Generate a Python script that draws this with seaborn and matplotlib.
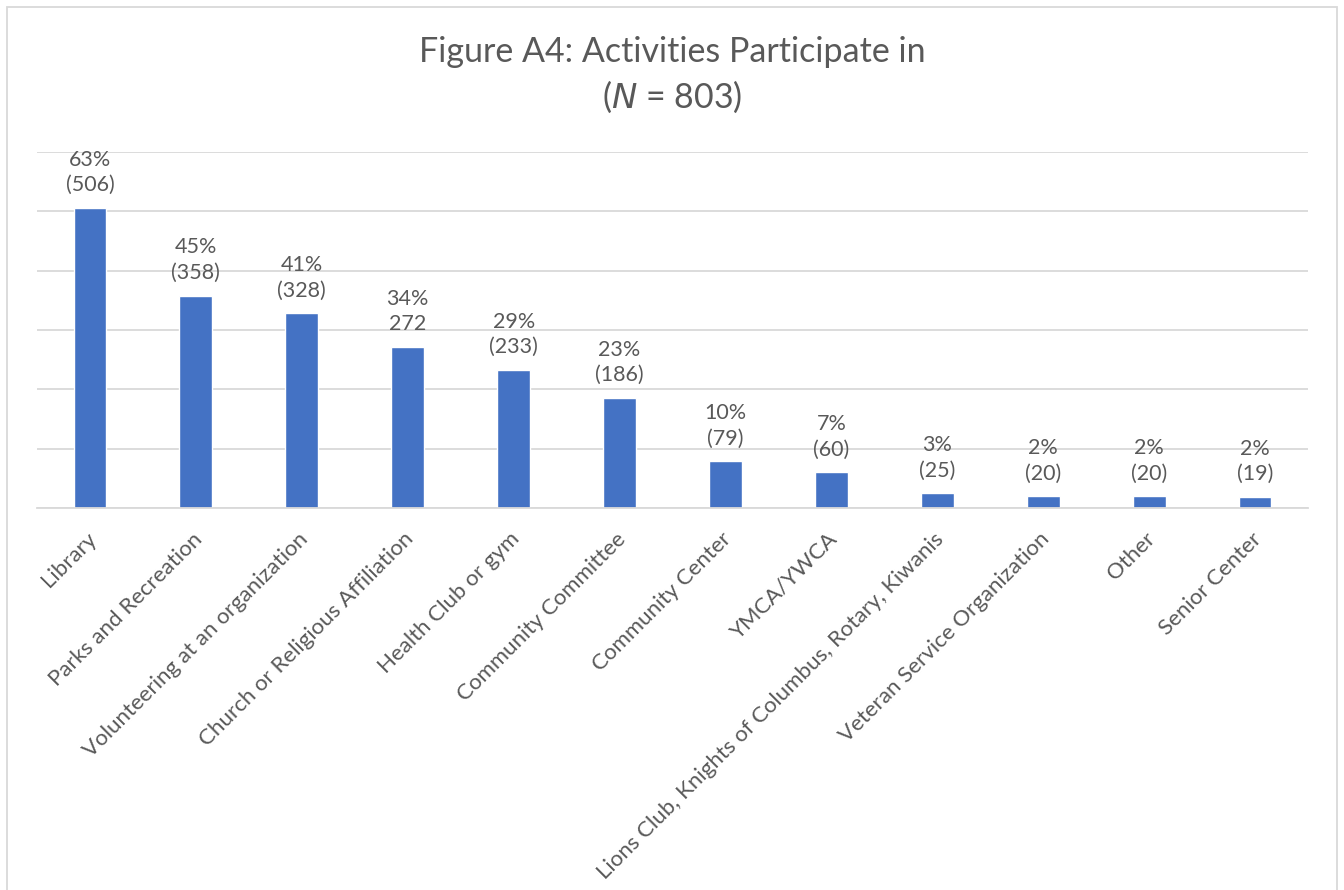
import matplotlib
matplotlib.use("Agg")
import matplotlib.pyplot as plt
import matplotlib.transforms as mtransforms
import seaborn as sns
import pandas as pd
from matplotlib.patches import Rectangle

categories = ["Library", "Parks and Recreation", "Volunteering at an organization",
              "Church or Religious Affiliation", "Health Club or gym", "Community Committee",
              "Community Center", "YMCA/YWCA", "Lions Club, Knights of Columbus, Rotary, Kiwanis",
              "Veteran Service Organization", "Other", "Senior Center"]
counts = [506, 358, 328, 272, 233, 186, 79, 60, 25, 20, 20, 19]
percents = ["63%", "45%", "41%", "34%", "29%", "23%", "10%", "7%", "3%", "2%", "2%", "2%"]
count_labels = ["(506)", "(358)", "(328)", "272", "(233)", "(186)", "(79)", "(60)", "(25)", "(20)", "(20)", "(19)"]

sns.set_theme(style="white")
plt.rcParams["font.family"] = ["Lato", "DejaVu Sans"]

TXT = "#595959"
GRID = "#D9D9D9"
BAR = "#4472C4"

df = pd.DataFrame({"cat": categories, "n": counts})

fig = plt.figure(figsize=(13.44, 8.9), dpi=100)
ax = fig.add_axes([37/1344, 1-508/890, (1308-37)/1344, (508-152)/890])

sns.barplot(data=df, x="cat", y="n", color=BAR, width=0.31, saturation=1, ax=ax)

ax.set_ylim(0, 600)
ax.set_yticks(range(0, 601, 100))
ax.yaxis.grid(True, color=GRID, linewidth=1.3)
ax.set_axisbelow(True)
ax.tick_params(axis="y", left=False, labelleft=False)
ax.tick_params(axis="x", bottom=False, pad=9)
for s in ["top", "right", "left"]:
    ax.spines[s].set_visible(False)
ax.spines["bottom"].set_color(GRID)
ax.spines["bottom"].set_linewidth(1.3)
ax.set_xlabel("")
ax.set_ylabel("")

labels = [f"{p}\n{c}" for p, c in zip(percents, count_labels)]
ax.bar_label(ax.containers[0], labels=labels, padding=9, fontsize=15.5,
             color=TXT, linespacing=1.35)

ax.set_xticks(range(len(categories)))
ax.set_xticklabels(categories, rotation=45, ha="right", rotation_mode="anchor",
                   fontsize=16, color=TXT)
shift = mtransforms.ScaledTranslation(-4/100, 0, fig.dpi_scale_trans)
for lab in ax.get_xticklabels():
    lab.set_transform(lab.get_transform() + shift)

fig.text(0.5, 1-52/890, "Figure A4: Activities Participate in", ha="center", va="center",
         fontsize=24.5, color=TXT)
fig.text(0.5, 1-97/890, r"($\it{N}$ = 803)", ha="center", va="center",
         fontsize=24.5, color=TXT)

fig.patches.append(Rectangle((7/1344, -0.02), (1337-7)/1344, 1.02-7/890,
                             transform=fig.transFigure, fill=False,
                             edgecolor=GRID, linewidth=1.3))

fig.savefig("out.png", dpi=100, facecolor="white")
